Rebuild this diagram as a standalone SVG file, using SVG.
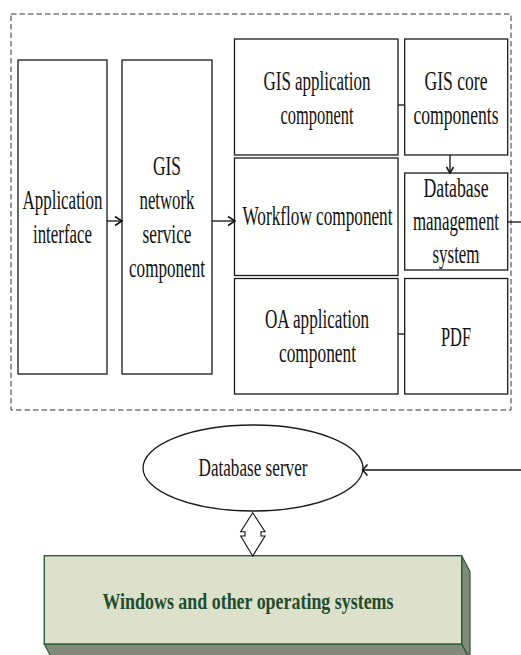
<svg xmlns="http://www.w3.org/2000/svg" width="521" height="655" viewBox="0 0 521 655">
  <style>
    .box { fill: #ffffff; stroke: #1a1a1a; stroke-width: 1.3; }
    .lbl { font-family: "Liberation Serif", "Times New Roman", serif; font-size: 28px; fill: #111111; text-anchor: middle; }
    .lbl2 { font-family: "Liberation Serif", "Times New Roman", serif; font-size: 25px; fill: #111111; text-anchor: middle; }
    .os { font-family: "Liberation Serif", "Times New Roman", serif; font-size: 24px; font-weight: bold; fill: #1f4d2c; text-anchor: middle; }
    .wire { fill: none; stroke: #111111; stroke-width: 1.3; }
    .head { fill: none; stroke: #111111; stroke-width: 1.5; }
  </style>

  <!-- application layer boundary -->
  <rect id="boundary" x="11" y="14" width="500" height="396" fill="none" stroke="#333333" stroke-width="1" stroke-dasharray="5.5 3"/>

  <g id="app-interface">
    <rect class="box" x="18" y="60" width="89" height="314"/>
    <text class="lbl" x="62.5" y="209" textLength="80" lengthAdjust="spacingAndGlyphs">Application</text>
    <text class="lbl" x="62.5" y="243" textLength="59" lengthAdjust="spacingAndGlyphs">interface</text>
  </g>

  <g id="gis-network-service">
    <rect class="box" x="122" y="60" width="90" height="314"/>
    <text class="lbl" x="167" y="175" textLength="28" lengthAdjust="spacingAndGlyphs">GIS</text>
    <text class="lbl" x="167" y="209" textLength="55" lengthAdjust="spacingAndGlyphs">network</text>
    <text class="lbl" x="167" y="243" textLength="49" lengthAdjust="spacingAndGlyphs">service</text>
    <text class="lbl" x="167" y="277" textLength="76" lengthAdjust="spacingAndGlyphs">component</text>
  </g>

  <g id="gis-application">
    <rect class="box" x="234.5" y="39" width="163.5" height="116"/>
    <text class="lbl" x="317" y="90" textLength="107" lengthAdjust="spacingAndGlyphs">GIS application</text>
    <text class="lbl" x="317" y="124" textLength="73" lengthAdjust="spacingAndGlyphs">component</text>
  </g>

  <g id="workflow">
    <rect class="box" x="234.5" y="158" width="163.5" height="117.5"/>
    <text class="lbl" x="317.5" y="225" textLength="150" lengthAdjust="spacingAndGlyphs">Workflow component</text>
  </g>

  <g id="oa-application">
    <rect class="box" x="234.5" y="278.5" width="163.5" height="115.5"/>
    <text class="lbl" x="317" y="328" textLength="104" lengthAdjust="spacingAndGlyphs">OA application</text>
    <text class="lbl" x="317.5" y="362" textLength="77" lengthAdjust="spacingAndGlyphs">component</text>
  </g>

  <g id="gis-core">
    <rect class="box" x="404.7" y="39" width="103" height="116"/>
    <text class="lbl" x="456" y="90" textLength="63" lengthAdjust="spacingAndGlyphs">GIS core</text>
    <text class="lbl" x="456" y="124" textLength="85" lengthAdjust="spacingAndGlyphs">components</text>
  </g>

  <g id="dbms">
    <rect class="box" x="404.7" y="173" width="103" height="97"/>
    <text class="lbl" x="456" y="197" textLength="65" lengthAdjust="spacingAndGlyphs">Database</text>
    <text class="lbl" x="456" y="230" textLength="86" lengthAdjust="spacingAndGlyphs">management</text>
    <text class="lbl" x="456" y="263" textLength="47" lengthAdjust="spacingAndGlyphs">system</text>
  </g>

  <g id="pdf">
    <rect class="box" x="404.7" y="278.5" width="103" height="115.5"/>
    <text class="lbl" x="456" y="346" textLength="30" lengthAdjust="spacingAndGlyphs">PDF</text>
  </g>

  <g id="database-server">
    <ellipse cx="253" cy="468" rx="110" ry="43" fill="#ffffff" stroke="#1a1a1a" stroke-width="1.3"/>
    <text class="lbl2" x="253" y="476" textLength="109" lengthAdjust="spacingAndGlyphs">Database server</text>
  </g>

  <g id="operating-systems">
    <!-- right side face -->
    <polygon points="461.7,555.7 470,571.7 470,660 461.7,644" fill="#828a7a" stroke="#2d5a3a" stroke-width="1.2"/>
    <!-- bottom face -->
    <polygon points="44.3,644 461.7,644 470,660 52.6,660" fill="#828a7a" stroke="#2d5a3a" stroke-width="1.2"/>
    <!-- front face -->
    <rect x="44.3" y="555.7" width="417.4" height="88.3" fill="#dde0ca" stroke="#2d5a3a" stroke-width="1.4"/>
    <text class="os" x="248" y="609" textLength="291" lengthAdjust="spacingAndGlyphs">Windows and other operating systems</text>
  </g>

  <g id="connectors">
    <!-- application interface to network service -->
    <line class="wire" x1="107" y1="221" x2="121.5" y2="221"/>
    <polyline class="head" points="115,216.5 122,221 115,225.5"/>
    <!-- network service to workflow -->
    <line class="wire" x1="212" y1="221" x2="234" y2="221" stroke-width="2"/>
    <polyline class="head" points="228,216.5 235,221 228,225.5"/>
    <!-- component links -->
    <line class="wire" x1="398" y1="105" x2="404.7" y2="105"/>
    <line class="wire" x1="398" y1="334" x2="404.7" y2="334"/>
    <!-- core components to DBMS -->
    <line class="wire" x1="450" y1="155" x2="450" y2="172.5"/>
    <polyline class="head" points="446.5,167 450,173 453.5,167"/>
    <!-- DBMS to database server -->
    <line class="wire" x1="507.7" y1="222" x2="521" y2="222"/>
    <line class="wire" x1="521" y1="470" x2="363" y2="470"/>
    <polyline class="head" points="367.5,464.5 362.5,470 367.5,475.5" stroke-width="1.2"/>
    <!-- database server to operating systems (two-way block arrow) -->
    <polygon points="252.7,512.7 265,531.7 261,531.7 261,536 265,536 252.7,556 240.7,536 245,536 245,531.7 240.7,531.7" fill="#ffffff" stroke="#111111" stroke-width="1.1"/>
  </g>
</svg>
